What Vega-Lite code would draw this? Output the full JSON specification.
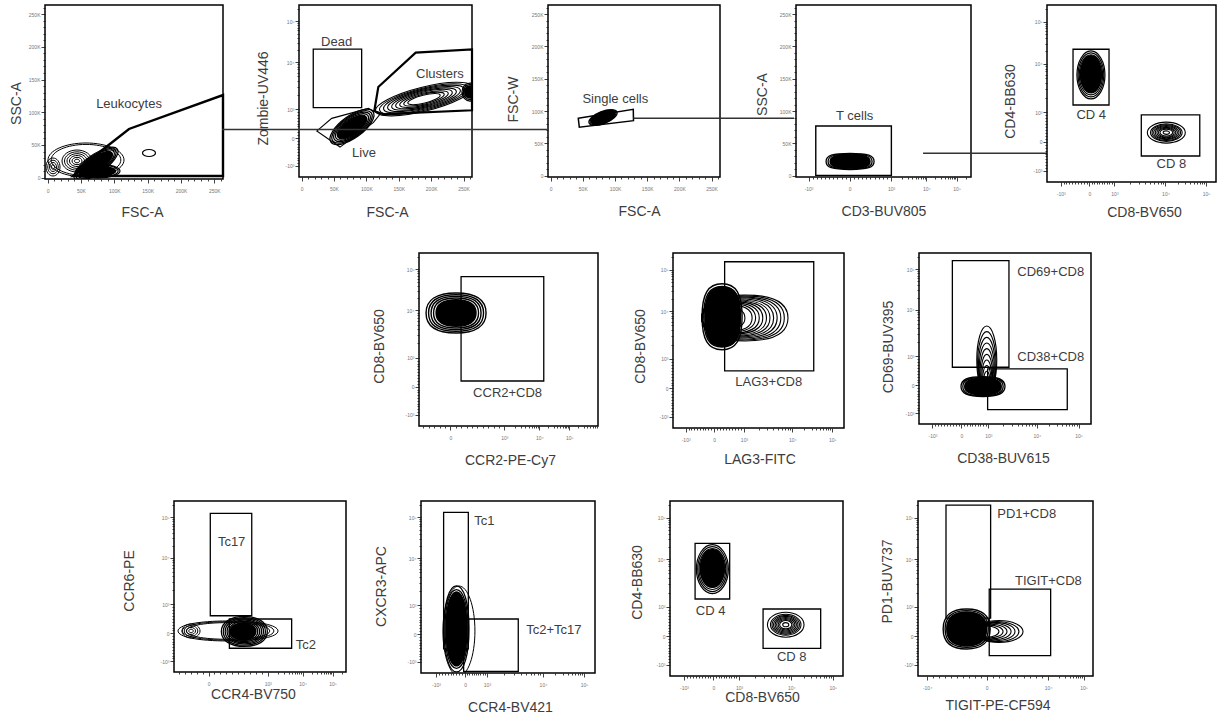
{
"$schema":"https://vega.github.io/schema/vega-lite/v6.json",
"background":"white",
"padding":{"left":8,"top":4,"right":0,"bottom":0},
"config":{
 "view":{"stroke":"black","strokeWidth":1.5},
 "font":"Liberation Sans",
 "axis":{"domain":false,"grid":false,"labelFont":"Liberation Sans","labelFontSize":5,"labelColor":"#777","labelOverlap":false,"labelFlush":false,"tickColor":"#111","tickWidth":0.8,"titleFont":"Liberation Sans","titleFontSize":14,"titleFontWeight":"normal","titleColor":"#3d3d3d","titleBaseline":"middle","titleAlign":"center"},
 "axisX":{"labelPadding":5},
 "axisY":{"labelPadding":1}
},
"spacing":32,
"vconcat":[
{"hconcat":[
 {"width":178,"height":174,
  "encoding":{
   "x":{"field":"x","type":"quantitative","scale":{"domain":[-4000,263000],"nice":false,"zero":false},"axis":{"values":[0,10000,20000,30000,40000,50000,60000,70000,80000,90000,100000,110000,120000,130000,140000,150000,160000,170000,180000,190000,200000,210000,220000,230000,240000,250000,260000],"labelExpr":"datum.value % 50000 == 0 ? (datum.value == 0 ? '0' : (datum.value / 1000) + 'K') : ''","tickSize":{"condition":{"test":"datum.value % 50000 == 0","value":4},"value":2},"title":"FSC-A","titleX":97,"titleY":33}},
   "y":{"field":"y","type":"quantitative","scale":{"domain":[-2000,264000],"nice":false,"zero":false},"axis":{"values":[0,10000,20000,30000,40000,50000,60000,70000,80000,90000,100000,110000,120000,130000,140000,150000,160000,170000,180000,190000,200000,210000,220000,230000,240000,250000,260000],"labelExpr":"datum.value % 50000 == 0 ? (datum.value == 0 ? '0' : (datum.value / 1000) + 'K') : ''","tickSize":{"condition":{"test":"datum.value % 50000 == 0","value":4},"value":2},"title":"SSC-A","titleX":-29,"titleY":98}}
  },
  "layer":[
   {"data":{"values":[{"x":57500,"y":27050,"ring":11},{"x":57500,"y":27050,"ring":12}]},
    "mark":{"type":"point","shape":"M38,0C38,9.4 21,17 0,17C-21,17 -38,9.4 -38,0C-38,-9.4 -21,-17 0,-17C21,-17 38,-9.4 38,0Z","filled":false,"color":"black","opacity":1,"strokeWidth":1,"clip":true},
    "encoding":{"size":{"field":"ring","type":"quantitative","scale":{"type":"pow","exponent":2,"domain":[0,12],"range":[0,4]},"legend":null}}},
   {"data":{"values":[{"x":8000,"y":16350,"ring":3},{"x":8000,"y":16350,"ring":6},{"x":8000,"y":16350,"ring":9},{"x":8000,"y":16350,"ring":12}]},
    "mark":{"type":"point","shape":"M7,0C7,5 3.9,9 0,9C-3.9,9 -7,5 -7,0C-7,-5 -3.9,-9 0,-9C3.9,-9 7,-5 7,0Z","filled":false,"color":"black","opacity":1,"strokeWidth":1,"clip":true},
    "encoding":{"size":{"field":"ring","type":"quantitative","scale":{"type":"pow","exponent":2,"domain":[0,12],"range":[0,4]},"legend":null}}},
   {"data":{"values":[{"x":44000,"y":25500,"ring":2},{"x":44000,"y":25500,"ring":4},{"x":44000,"y":25500,"ring":6},{"x":44000,"y":25500,"ring":8},{"x":44000,"y":25500,"ring":10},{"x":44000,"y":25500,"ring":12}]},
    "mark":{"type":"point","shape":"M15,0C15,6.1 8.3,11 0,11C-8.3,11 -15,6.1 -15,0C-15,-6.1 -8.3,-11 0,-11C8.3,-11 15,-6.1 15,0Z","filled":false,"color":"black","opacity":1,"strokeWidth":1,"clip":true},
    "encoding":{"size":{"field":"ring","type":"quantitative","scale":{"type":"pow","exponent":2,"domain":[0,12],"range":[0,4]},"legend":null}}},
   {"data":{"values":[{"x":75500,"y":10200,"ring":11},{"x":75500,"y":10200,"ring":12}]},
    "mark":{"type":"point","shape":"M22,0C22,3.9 12.1,7 0,7C-12.1,7 -22,3.9 -22,0C-22,-3.9 -12.1,-7 0,-7C12.1,-7 22,-3.9 22,0Z","filled":false,"color":"black","opacity":1,"strokeWidth":1.2,"clip":true},
    "encoding":{"size":{"field":"ring","type":"quantitative","scale":{"type":"pow","exponent":2,"domain":[0,12],"range":[0,4]},"legend":null}}},
   {"data":{"values":[{"x":75500,"y":10200,"ring":10}]},
    "mark":{"type":"point","shape":"M22,0C22,3.9 12.1,7 0,7C-12.1,7 -22,3.9 -22,0C-22,-3.9 -12.1,-7 0,-7C12.1,-7 22,-3.9 22,0Z","filled":true,"color":"black","opacity":1,"clip":true},
    "encoding":{"size":{"field":"ring","type":"quantitative","scale":{"type":"pow","exponent":2,"domain":[0,12],"range":[0,4]},"legend":null}}},
   {"data":{"values":[{"x":72500,"y":20900,"ring":8},{"x":72500,"y":20900,"ring":9},{"x":72500,"y":20900,"ring":10},{"x":72500,"y":20900,"ring":11},{"x":72500,"y":20900,"ring":12}]},
    "mark":{"type":"point","shape":"M26,0C26,5.2 14.4,9.5 0,9.5C-14.4,9.5 -26,5.2 -26,0C-26,-5.2 -14.4,-9.5 0,-9.5C14.4,-9.5 26,-5.2 26,0Z","angle":-35,"filled":false,"color":"black","opacity":1,"strokeWidth":1.2,"clip":true},
    "encoding":{"size":{"field":"ring","type":"quantitative","scale":{"type":"pow","exponent":2,"domain":[0,12],"range":[0,4]},"legend":null}}},
   {"data":{"values":[{"x":72500,"y":20900,"ring":9}]},
    "mark":{"type":"point","shape":"M26,0C26,5.2 14.4,9.5 0,9.5C-14.4,9.5 -26,5.2 -26,0C-26,-5.2 -14.4,-9.5 0,-9.5C14.4,-9.5 26,-5.2 26,0Z","angle":-35,"filled":true,"color":"black","opacity":1,"clip":true},
    "encoding":{"size":{"field":"ring","type":"quantitative","scale":{"type":"pow","exponent":2,"domain":[0,12],"range":[0,4]},"legend":null}}},
   {"data":{"values":[{"x":152000,"y":37750,"ring":12}]},
    "mark":{"type":"point","shape":"M6.5,0C6.5,1.9 3.6,3.5 0,3.5C-3.6,3.5 -6.5,1.9 -6.5,0C-6.5,-1.9 -3.6,-3.5 0,-3.5C3.6,-3.5 6.5,-1.9 6.5,0Z","filled":false,"color":"black","opacity":1,"strokeWidth":1.2,"clip":true},
    "encoding":{"size":{"field":"ring","type":"quantitative","scale":{"type":"pow","exponent":2,"domain":[0,12],"range":[0,4]},"legend":null}}},
   {"data":{"values":[{"x":38000,"y":2600,"i":0},{"x":263000,"y":2600,"i":1},{"x":263000,"y":126400,"i":2},{"x":122000,"y":74500,"i":3},{"x":80000,"y":40800,"i":4}]},
    "mark":{"type":"line","color":"black","strokeWidth":2.4,"interpolate":"linear-closed"},
    "encoding":{"order":{"field":"i","type":"quantitative"}}},
   {"data":{"values":[{"x":122000,"y":112700,"t":"Leukocytes"}]},
    "mark":{"type":"text","fontSize":13,"color":"#3d3d3d","font":"Liberation Sans"},
    "encoding":{"text":{"field":"t","type":"nominal"}}}
  ]},
 {"width":173,"height":172,
  "encoding":{
   "x":{"field":"x","type":"quantitative","scale":{"domain":[-4000,263000],"nice":false,"zero":false},"axis":{"values":[0,10000,20000,30000,40000,50000,60000,70000,80000,90000,100000,110000,120000,130000,140000,150000,160000,170000,180000,190000,200000,210000,220000,230000,240000,250000,260000],"labelExpr":"datum.value % 50000 == 0 ? (datum.value == 0 ? '0' : (datum.value / 1000) + 'K') : ''","tickSize":{"condition":{"test":"datum.value % 50000 == 0","value":4},"value":2},"title":"FSC-A","titleX":88,"titleY":35}},
   "y":{"field":"y","type":"quantitative","scale":{"domain":[0,1000],"nice":false,"zero":false},"axis":{"values":[64,80,96,113,129,145,161,177,194,210,226,243,260,277,294,311,327,344,361,378,395,477,525,559,586,607,626,641,655,668,739,781,811,834,852,868,882,894,905,976],"labelExpr":"datum.value == 64 ? '-10³' : datum.value == 226 ? '0' : datum.value == 395 ? '10³' : datum.value == 668 ? '10⁴' : datum.value == 905 ? '10⁵' : ''","tickSize":{"condition":{"test":"indexof([64,226,395,668,905], datum.value) >= 0","value":4},"value":2},"title":"Zombie-UV446","titleX":-36,"titleY":93}}
  },
  "layer":[
   {"data":{"values":[{"x":77800,"y":291,"ring":8},{"x":77800,"y":291,"ring":9},{"x":77800,"y":291,"ring":10},{"x":77800,"y":291,"ring":11},{"x":77800,"y":291,"ring":12}]},
    "mark":{"type":"point","shape":"M26,0C26,6.1 14.4,11 0,11C-14.4,11 -26,6.1 -26,0C-26,-6.1 -14.4,-11 0,-11C14.4,-11 26,-6.1 26,0Z","angle":-36,"filled":false,"color":"black","opacity":1,"strokeWidth":1.3,"clip":true},
    "encoding":{"size":{"field":"ring","type":"quantitative","scale":{"type":"pow","exponent":2,"domain":[0,12],"range":[0,4]},"legend":null}}},
   {"data":{"values":[{"x":77800,"y":291,"ring":8}]},
    "mark":{"type":"point","shape":"M26,0C26,6.1 14.4,11 0,11C-14.4,11 -26,6.1 -26,0C-26,-6.1 -14.4,-11 0,-11C14.4,-11 26,-6.1 26,0Z","angle":-36,"filled":true,"color":"black","opacity":1,"clip":true},
    "encoding":{"size":{"field":"ring","type":"quantitative","scale":{"type":"pow","exponent":2,"domain":[0,12],"range":[0,4]},"legend":null}}},
   {"data":{"values":[{"x":188900,"y":453,"ring":4},{"x":188900,"y":453,"ring":5},{"x":188900,"y":453,"ring":6},{"x":188900,"y":453,"ring":7},{"x":188900,"y":453,"ring":8},{"x":188900,"y":453,"ring":9},{"x":188900,"y":453,"ring":10},{"x":188900,"y":453,"ring":11},{"x":188900,"y":453,"ring":12}]},
    "mark":{"type":"point","shape":"M50,0C50,6.6 27.6,12 0,12C-27.6,12 -50,6.6 -50,0C-50,-6.6 -27.6,-12 0,-12C27.6,-12 50,-6.6 50,0Z","angle":-14,"filled":false,"color":"black","opacity":1,"strokeWidth":1.1,"clip":true},
    "encoding":{"size":{"field":"ring","type":"quantitative","scale":{"type":"pow","exponent":2,"domain":[0,12],"range":[0,4]},"legend":null}}},
   {"data":{"values":[{"x":259900,"y":494,"ring":10},{"x":259900,"y":494,"ring":12}]},
    "mark":{"type":"point","shape":"M8,0C8,5 4.4,9 0,9C-4.4,9 -8,5 -8,0C-8,-5 -4.4,-9 0,-9C4.4,-9 8,-5 8,0Z","filled":false,"color":"black","opacity":1,"strokeWidth":1.3,"clip":true},
    "encoding":{"size":{"field":"ring","type":"quantitative","scale":{"type":"pow","exponent":2,"domain":[0,12],"range":[0,4]},"legend":null}}},
   {"data":{"values":[{"x":259900,"y":494,"ring":9}]},
    "mark":{"type":"point","shape":"M8,0C8,5 4.4,9 0,9C-4.4,9 -8,5 -8,0C-8,-5 -4.4,-9 0,-9C4.4,-9 8,-5 8,0Z","filled":true,"color":"black","opacity":1,"clip":true},
    "encoding":{"size":{"field":"ring","type":"quantitative","scale":{"type":"pow","exponent":2,"domain":[0,12],"range":[0,4]},"legend":null}}},
   {"data":{"values":[{"x":18000,"x2":92700,"y":403,"y2":743}]},
    "mark":{"type":"rect","fill":"white","fillOpacity":0,"stroke":"black","strokeWidth":1.3},
    "encoding":{"x2":{"field":"x2"},"y2":{"field":"y2"}}},
   {"data":{"values":[{"x":23300,"y":267,"i":0},{"x":46500,"y":341,"i":1},{"x":103000,"y":399,"i":2},{"x":121000,"y":365,"i":3},{"x":110600,"y":316,"i":4},{"x":59300,"y":174,"i":5}]},
    "mark":{"type":"line","color":"black","strokeWidth":1.1,"interpolate":"linear-closed"},
    "encoding":{"order":{"field":"i","type":"quantitative"}}},
   {"data":{"values":[{"x":112200,"y":384,"i":0},{"x":118400,"y":523,"i":1},{"x":176100,"y":723,"i":2},{"x":263000,"y":742,"i":3},{"x":263000,"y":388,"i":4},{"x":126000,"y":365,"i":5}]},
    "mark":{"type":"line","color":"black","strokeWidth":2.2,"interpolate":"linear-closed"},
    "encoding":{"order":{"field":"i","type":"quantitative"}}},
   {"data":{"values":[{"x":54000,"y":787,"t":"Dead"},{"x":213500,"y":600,"t":"Clusters"},{"x":96300,"y":141,"t":"Live"}]},
    "mark":{"type":"text","fontSize":13,"color":"#3d3d3d","font":"Liberation Sans"},
    "encoding":{"text":{"field":"t","type":"nominal"}}},
   {"data":{"values":[{"x":-122800,"x2":378700,"y":276}]},
    "mark":{"type":"rule","color":"#333","strokeWidth":1.5,"clip":false},
    "encoding":{"x2":{"field":"x2"}}}
  ]},
 {"width":172,"height":172,
  "encoding":{
   "x":{"field":"x","type":"quantitative","scale":{"domain":[-4000,263000],"nice":false,"zero":false},"axis":{"values":[0,10000,20000,30000,40000,50000,60000,70000,80000,90000,100000,110000,120000,130000,140000,150000,160000,170000,180000,190000,200000,210000,220000,230000,240000,250000,260000],"labelExpr":"datum.value % 50000 == 0 ? (datum.value == 0 ? '0' : (datum.value / 1000) + 'K') : ''","tickSize":{"condition":{"test":"datum.value % 50000 == 0","value":4},"value":2},"title":"FSC-A","titleX":91,"titleY":34}},
   "y":{"field":"y","type":"quantitative","scale":{"domain":[-2000,264000],"nice":false,"zero":false},"axis":{"values":[0,10000,20000,30000,40000,50000,60000,70000,80000,90000,100000,110000,120000,130000,140000,150000,160000,170000,180000,190000,200000,210000,220000,230000,240000,250000,260000],"labelExpr":"datum.value % 50000 == 0 ? (datum.value == 0 ? '0' : (datum.value / 1000) + 'K') : ''","tickSize":{"condition":{"test":"datum.value % 50000 == 0","value":4},"value":2},"title":"FSC-W","titleX":-35,"titleY":94}}
  },
  "layer":[
   {"data":{"values":[{"x":81400,"y":90000,"ring":9},{"x":81400,"y":90000,"ring":10},{"x":81400,"y":90000,"ring":11},{"x":81400,"y":90000,"ring":12}]},
    "mark":{"type":"point","shape":"M15,0C15,3.3 8.3,6 0,6C-8.3,6 -15,3.3 -15,0C-15,-3.3 -8.3,-6 0,-6C8.3,-6 15,-3.3 15,0Z","angle":-22,"filled":false,"color":"black","opacity":1,"strokeWidth":1.3,"clip":true},
    "encoding":{"size":{"field":"ring","type":"quantitative","scale":{"type":"pow","exponent":2,"domain":[0,12],"range":[0,4]},"legend":null}}},
   {"data":{"values":[{"x":81400,"y":90000,"ring":10}]},
    "mark":{"type":"point","shape":"M15,0C15,3.3 8.3,6 0,6C-8.3,6 -15,3.3 -15,0C-15,-3.3 -8.3,-6 0,-6C8.3,-6 15,-3.3 15,0Z","angle":-22,"filled":true,"color":"black","opacity":1,"clip":true},
    "encoding":{"size":{"field":"ring","type":"quantitative","scale":{"type":"pow","exponent":2,"domain":[0,12],"range":[0,4]},"legend":null}}},
   {"data":{"values":[{"x":43000,"y":88800,"i":0},{"x":128400,"y":102700,"i":1},{"x":128700,"y":85100,"i":2},{"x":44600,"y":74900,"i":3}]},
    "mark":{"type":"line","color":"black","strokeWidth":1.5,"interpolate":"linear-closed"},
    "encoding":{"order":{"field":"i","type":"quantitative"}}},
   {"data":{"values":[{"x":100500,"y":119100,"t":"Single cells"}]},
    "mark":{"type":"text","fontSize":13,"color":"#3d3d3d","font":"Liberation Sans"},
    "encoding":{"text":{"field":"t","type":"nominal"}}},
   {"data":{"values":[{"x":128700,"x2":377900,"y":88800}]},
    "mark":{"type":"rule","color":"#333","strokeWidth":1.5,"clip":false},
    "encoding":{"x2":{"field":"x2"}}}
  ]},
 {"width":175,"height":172,
  "encoding":{
   "x":{"field":"x","type":"quantitative","scale":{"domain":[0,1000],"nice":false,"zero":false},"axis":{"values":[72,96,119,143,166,190,213,237,260,284,307,331,354,378,401,425,449,472,496,519,543,604,639,665,684,700,714,725,736,745,797,828,849,866,880,891,901,910,918,970],"labelExpr":"datum.value == 72 ? '-10³' : datum.value == 307 ? '0' : datum.value == 543 ? '10³' : datum.value == 745 ? '10⁴' : datum.value == 918 ? '10⁵' : ''","tickSize":{"condition":{"test":"indexof([72,307,543,745,918], datum.value) >= 0","value":4},"value":2},"title":"CD3-BUV805","titleX":87.5,"titleY":34}},
   "y":{"field":"y","type":"quantitative","scale":{"domain":[-2000,264000],"nice":false,"zero":false},"axis":{"values":[0,10000,20000,30000,40000,50000,60000,70000,80000,90000,100000,110000,120000,130000,140000,150000,160000,170000,180000,190000,200000,210000,220000,230000,240000,250000,260000],"labelExpr":"datum.value % 50000 == 0 ? (datum.value == 0 ? '0' : (datum.value / 1000) + 'K') : ''","tickSize":{"condition":{"test":"datum.value % 50000 == 0","value":4},"value":2},"title":"SSC-A","titleX":-34,"titleY":89}}
  },
  "layer":[
   {"data":{"values":[{"x":309,"y":22000,"ring":9},{"x":309,"y":22000,"ring":10},{"x":309,"y":22000,"ring":11},{"x":309,"y":22000,"ring":12}]},
    "mark":{"type":"point","shape":"M24,0C24,6 18,8 0,8C-18,8 -24,6 -24,0C-24,-6 -18,-8 0,-8C18,-8 24,-6 24,0Z","filled":false,"color":"black","opacity":1,"strokeWidth":1.3,"clip":true},
    "encoding":{"size":{"field":"ring","type":"quantitative","scale":{"type":"pow","exponent":2,"domain":[0,12],"range":[0,4]},"legend":null}}},
   {"data":{"values":[{"x":309,"y":22000,"ring":10}]},
    "mark":{"type":"point","shape":"M24,0C24,6 18,8 0,8C-18,8 -24,6 -24,0C-24,-6 -18,-8 0,-8C18,-8 24,-6 24,0Z","filled":true,"color":"black","opacity":1,"clip":true},
    "encoding":{"size":{"field":"ring","type":"quantitative","scale":{"type":"pow","exponent":2,"domain":[0,12],"range":[0,4]},"legend":null}}},
   {"data":{"values":[{"x":113,"x2":545,"y":500,"y2":76900}]},
    "mark":{"type":"rect","fill":"white","fillOpacity":0,"stroke":"black","strokeWidth":1.4},
    "encoding":{"x2":{"field":"x2"},"y2":{"field":"y2"}}},
   {"data":{"values":[{"x":335,"y":92800,"t":"T cells"}]},
    "mark":{"type":"text","fontSize":13,"color":"#3d3d3d","font":"Liberation Sans"},
    "encoding":{"text":{"field":"t","type":"nominal"}}},
   {"data":{"values":[{"x":726,"x2":1434,"y":34700}]},
    "mark":{"type":"rule","color":"#333","strokeWidth":1.5,"clip":false},
    "encoding":{"x2":{"field":"x2"}}}
  ]},
 {"width":169,"height":177,
  "encoding":{
   "x":{"field":"x","type":"quantitative","scale":{"domain":[0,1000],"nice":false,"zero":false},"axis":{"values":[81,98,115,132,149,166,183,200,217,234,251,266,281,295,310,325,340,355,369,384,399,490,543,581,610,634,654,672,687,701,773,815,845,869,888,904,918,930,941],"labelExpr":"datum.value == 81 ? '-10³' : datum.value == 251 ? '0' : datum.value == 399 ? '10³' : datum.value == 701 ? '10⁴' : datum.value == 941 ? '10⁵' : ''","tickSize":{"condition":{"test":"indexof([81,251,399,701,941], datum.value) >= 0","value":4},"value":2},"title":"CD8-BV650","titleX":97,"titleY":30}},
   "y":{"field":"y","type":"quantitative","scale":{"domain":[0,1000],"nice":false,"zero":false},"axis":{"values":[64,80,96,113,129,145,161,177,194,210,226,243,260,277,294,311,327,344,361,378,395,477,525,559,586,607,626,641,655,668,739,781,811,834,852,868,882,894,905,976],"labelExpr":"datum.value == 64 ? '-10³' : datum.value == 226 ? '0' : datum.value == 395 ? '10³' : datum.value == 668 ? '10⁴' : datum.value == 905 ? '10⁵' : ''","tickSize":{"condition":{"test":"indexof([64,226,395,668,905], datum.value) >= 0","value":4},"value":2},"title":"CD4-BB630","titleX":-37,"titleY":96}}
  },
  "layer":[
   {"data":{"values":[{"x":260,"y":605,"ring":9},{"x":260,"y":605,"ring":10},{"x":260,"y":605,"ring":11},{"x":260,"y":605,"ring":12}]},
    "mark":{"type":"point","shape":"M14,0C14,13.2 7.7,24 0,24C-7.7,24 -14,13.2 -14,0C-14,-13.2 -7.7,-24 0,-24C7.7,-24 14,-13.2 14,0Z","filled":false,"color":"black","opacity":1,"strokeWidth":1.2,"clip":true},
    "encoding":{"size":{"field":"ring","type":"quantitative","scale":{"type":"pow","exponent":2,"domain":[0,12],"range":[0,4]},"legend":null}}},
   {"data":{"values":[{"x":260,"y":610,"ring":9.5}]},
    "mark":{"type":"point","shape":"M14,0C14,13.2 7.7,24 0,24C-7.7,24 -14,13.2 -14,0C-14,-13.2 -7.7,-24 0,-24C7.7,-24 14,-13.2 14,0Z","filled":true,"color":"black","opacity":1,"clip":true},
    "encoding":{"size":{"field":"ring","type":"quantitative","scale":{"type":"pow","exponent":2,"domain":[0,12],"range":[0,4]},"legend":null}}},
   {"data":{"values":[{"x":706,"y":279,"ring":2},{"x":706,"y":279,"ring":4},{"x":706,"y":279,"ring":5},{"x":706,"y":279,"ring":6},{"x":706,"y":279,"ring":7},{"x":706,"y":279,"ring":8},{"x":706,"y":279,"ring":9},{"x":706,"y":279,"ring":10},{"x":706,"y":279,"ring":12}]},
    "mark":{"type":"point","shape":"M19,0C19,5.8 10.5,10.5 0,10.5C-10.5,10.5 -19,5.8 -19,0C-19,-5.8 -10.5,-10.5 0,-10.5C10.5,-10.5 19,-5.8 19,0Z","filled":false,"color":"black","opacity":1,"strokeWidth":1.1,"clip":true},
    "encoding":{"size":{"field":"ring","type":"quantitative","scale":{"type":"pow","exponent":2,"domain":[0,12],"range":[0,4]},"legend":null}}},
   {"data":{"values":[{"x":154,"x2":367,"y":435,"y2":750},{"x":558,"x2":904,"y":147,"y2":379}]},
    "mark":{"type":"rect","fill":"white","fillOpacity":0,"stroke":"black","strokeWidth":1.3},
    "encoding":{"x2":{"field":"x2"},"y2":{"field":"y2"}}},
   {"data":{"values":[{"x":262,"y":377,"t":"CD 4"},{"x":736,"y":103,"t":"CD 8"}]},
    "mark":{"type":"text","fontSize":13,"color":"#3d3d3d","font":"Liberation Sans"},
    "encoding":{"text":{"field":"t","type":"nominal"}}}
  ]}
],"spacing":76,"bounds":"flush"},
{"hconcat":[
 {"width":299,"height":10,"view":{"stroke":null},"data":{"values":[{"a":1}]},"mark":{"type":"point","opacity":0},"encoding":{}},
 {"width":179,"height":173,
  "encoding":{
   "x":{"field":"x","type":"quantitative","scale":{"domain":[0,1000],"nice":false,"zero":false},"axis":{"values":[24,54,84,115,145,175,205,235,266,296,326,356,386,417,447,477,536,570,594,613,629,642,653,663,672,723,752,773,789,803,814,824,832,840,891,920,941,957,971,982,992],"labelExpr":"datum.value == 175 ? '0' : datum.value == 477 ? '10³' : datum.value == 672 ? '10⁴' : datum.value == 840 ? '10⁵' : ''","tickSize":{"condition":{"test":"indexof([175,477,672,840], datum.value) >= 0","value":4},"value":2},"title":"CCR2-PE-Cy7","titleX":91,"titleY":34}},
   "y":{"field":"y","type":"quantitative","scale":{"domain":[0,1000],"nice":false,"zero":false},"axis":{"values":[64,80,96,113,129,145,161,177,194,210,226,243,260,277,294,311,327,344,361,378,395,477,525,559,586,607,626,641,655,668,739,781,811,834,852,868,882,894,905,976],"labelExpr":"datum.value == 64 ? '-10³' : datum.value == 226 ? '0' : datum.value == 395 ? '10³' : datum.value == 668 ? '10⁴' : datum.value == 905 ? '10⁵' : ''","tickSize":{"condition":{"test":"indexof([64,226,395,668,905], datum.value) >= 0","value":4},"value":2},"title":"CD8-BV650","titleX":-40,"titleY":93}}
  },
  "layer":[
   {"data":{"values":[{"x":207,"y":653,"ring":7},{"x":207,"y":653,"ring":8},{"x":207,"y":653,"ring":9},{"x":207,"y":653,"ring":10},{"x":207,"y":653,"ring":11},{"x":207,"y":653,"ring":12}]},
    "mark":{"type":"point","shape":"M30,0C30,13 19.5,20 0,20C-19.5,20 -30,13 -30,0C-30,-13 -19.5,-20 0,-20C19.5,-20 30,-13 30,0Z","filled":false,"color":"black","opacity":1,"strokeWidth":1.4,"clip":true},
    "encoding":{"size":{"field":"ring","type":"quantitative","scale":{"type":"pow","exponent":2,"domain":[0,12],"range":[0,4]},"legend":null}}},
   {"data":{"values":[{"x":207,"y":653,"ring":8}]},
    "mark":{"type":"point","shape":"M30,0C30,13 19.5,20 0,20C-19.5,20 -30,13 -30,0C-30,-13 -19.5,-20 0,-20C19.5,-20 30,-13 30,0Z","filled":true,"color":"black","opacity":1,"clip":true},
    "encoding":{"size":{"field":"ring","type":"quantitative","scale":{"type":"pow","exponent":2,"domain":[0,12],"range":[0,4]},"legend":null}}},
   {"data":{"values":[{"x":235,"x2":697,"y":260,"y2":863}]},
    "mark":{"type":"rect","fill":"white","fillOpacity":0,"stroke":"black","strokeWidth":1.3},
    "encoding":{"x2":{"field":"x2"},"y2":{"field":"y2"}}},
   {"data":{"values":[{"x":495,"y":192,"t":"CCR2+CD8"}]},
    "mark":{"type":"text","fontSize":13,"color":"#3d3d3d","font":"Liberation Sans"},
    "encoding":{"text":{"field":"t","type":"nominal"}}}
  ]},
 {"width":171,"height":175,
  "encoding":{
   "x":{"field":"x","type":"quantitative","scale":{"domain":[0,1000],"nice":false,"zero":false},"axis":{"values":[74,91,107,124,140,157,174,190,207,223,240,258,275,293,310,328,345,363,380,398,415,500,550,585,613,635,654,671,685,698,768,810,839,862,880,896,909,921,932],"labelExpr":"datum.value == 74 ? '-10³' : datum.value == 240 ? '0' : datum.value == 415 ? '10³' : datum.value == 698 ? '10⁴' : datum.value == 932 ? '10⁵' : ''","tickSize":{"condition":{"test":"indexof([74,240,415,698,932], datum.value) >= 0","value":4},"value":2},"title":"LAG3-FITC","titleX":86.5,"titleY":31}},
   "y":{"field":"y","type":"quantitative","scale":{"domain":[0,1000],"nice":false,"zero":false},"axis":{"values":[64,80,96,113,129,145,161,177,194,210,226,243,260,277,294,311,327,344,361,378,395,477,525,559,586,607,626,641,655,668,739,781,811,834,852,868,882,894,905,976],"labelExpr":"datum.value == 64 ? '-10³' : datum.value == 226 ? '0' : datum.value == 395 ? '10³' : datum.value == 668 ? '10⁴' : datum.value == 905 ? '10⁵' : ''","tickSize":{"condition":{"test":"indexof([64,226,395,668,905], datum.value) >= 0","value":4},"value":2},"title":"CD8-BV650","titleX":-33,"titleY":93}}
  },
  "layer":[
   {"data":{"values":[{"x":421,"y":629,"ring":12},{"x":410,"y":629,"ring":11.5},{"x":400,"y":629,"ring":11},{"x":389,"y":629,"ring":10.5},{"x":379,"y":629,"ring":10},{"x":368,"y":629,"ring":9.5},{"x":358,"y":629,"ring":9},{"x":347,"y":629,"ring":8.5},{"x":337,"y":629,"ring":8},{"x":326,"y":629,"ring":7.5},{"x":316,"y":629,"ring":7},{"x":295,"y":629,"ring":6},{"x":274,"y":629,"ring":5}]},
    "mark":{"type":"point","shape":"M43,0C43,15 28,23 0,23C-28,23 -43,15 -43,0C-43,-15 -28,-23 0,-23C28,-23 43,-15 43,0Z","filled":false,"color":"black","opacity":1,"strokeWidth":1.1,"clip":true},
    "encoding":{"size":{"field":"ring","type":"quantitative","scale":{"type":"pow","exponent":2,"domain":[0,12],"range":[0,4]},"legend":null}}},
   {"data":{"values":[{"x":287,"y":636,"ring":10},{"x":287,"y":636,"ring":11},{"x":287,"y":636,"ring":12}]},
    "mark":{"type":"point","shape":"M20,0C20,23.1 14,33 0,33C-14,33 -20,23.1 -20,0C-20,-23.1 -14,-33 0,-33C14,-33 20,-23.1 20,0Z","filled":false,"color":"black","opacity":1,"strokeWidth":1.4,"clip":true},
    "encoding":{"size":{"field":"ring","type":"quantitative","scale":{"type":"pow","exponent":2,"domain":[0,12],"range":[0,4]},"legend":null}}},
   {"data":{"values":[{"x":290,"y":636,"ring":11}]},
    "mark":{"type":"point","shape":"M20,0C20,23.1 14,33 0,33C-14,33 -20,23.1 -20,0C-20,-23.1 -14,-33 0,-33C14,-33 20,-23.1 20,0Z","filled":true,"color":"black","opacity":1,"clip":true},
    "encoding":{"size":{"field":"ring","type":"quantitative","scale":{"type":"pow","exponent":2,"domain":[0,12],"range":[0,4]},"legend":null}}},
   {"data":{"values":[{"x":302,"x2":823,"y":327,"y2":950}]},
    "mark":{"type":"rect","fill":"white","fillOpacity":0,"stroke":"black","strokeWidth":1.3},
    "encoding":{"x2":{"field":"x2"},"y2":{"field":"y2"}}},
   {"data":{"values":[{"x":560,"y":265,"t":"LAG3+CD8"}]},
    "mark":{"type":"text","fontSize":13,"color":"#3d3d3d","font":"Liberation Sans"},
    "encoding":{"text":{"field":"t","type":"nominal"}}}
  ]},
 {"width":172,"height":171,
  "encoding":{
   "x":{"field":"x","type":"quantitative","scale":{"domain":[0,1000],"nice":false,"zero":false},"axis":{"values":[78,95,112,129,146,163,179,196,213,230,247,263,278,294,309,325,341,356,372,387,403,488,538,573,600,622,641,658,672,685,758,801,831,855,874,890,904,917,928],"labelExpr":"datum.value == 78 ? '-10³' : datum.value == 247 ? '0' : datum.value == 403 ? '10³' : datum.value == 685 ? '10⁴' : datum.value == 928 ? '10⁵' : ''","tickSize":{"condition":{"test":"indexof([78,247,403,685,928], datum.value) >= 0","value":4},"value":2},"title":"CD38-BUV615","titleX":84,"titleY":34}},
   "y":{"field":"y","type":"quantitative","scale":{"domain":[0,1000],"nice":false,"zero":false},"axis":{"values":[64,80,96,113,129,145,161,177,194,210,226,243,260,277,294,311,327,344,361,378,395,477,525,559,586,607,626,641,655,668,739,781,811,834,852,868,882,894,905,976],"labelExpr":"datum.value == 64 ? '-10³' : datum.value == 226 ? '0' : datum.value == 395 ? '10³' : datum.value == 668 ? '10⁴' : datum.value == 905 ? '10⁵' : ''","tickSize":{"condition":{"test":"indexof([64,226,395,668,905], datum.value) >= 0","value":4},"value":2},"title":"CD69-BUV395","titleX":-31,"titleY":93.5}}
  },
  "layer":[
   {"data":{"values":[{"x":394,"y":374,"ring":12},{"x":394,"y":358,"ring":11},{"x":394,"y":341,"ring":10},{"x":394,"y":325,"ring":9},{"x":394,"y":308,"ring":8},{"x":394,"y":291,"ring":7},{"x":394,"y":275,"ring":6},{"x":394,"y":259,"ring":5},{"x":394,"y":242,"ring":4}]},
    "mark":{"type":"point","shape":"M10,0C10,18.8 5.5,34 0,34C-5.5,34 -10,18.8 -10,0C-10,-18.8 -5.5,-34 0,-34C5.5,-34 10,-18.8 10,0Z","filled":false,"color":"black","opacity":1,"strokeWidth":1.1,"clip":true},
    "encoding":{"size":{"field":"ring","type":"quantitative","scale":{"type":"pow","exponent":2,"domain":[0,12],"range":[0,4]},"legend":null}}},
   {"data":{"values":[{"x":372,"y":219,"ring":9},{"x":372,"y":219,"ring":10},{"x":372,"y":219,"ring":11},{"x":372,"y":219,"ring":12}]},
    "mark":{"type":"point","shape":"M22,0C22,7 15.4,10 0,10C-15.4,10 -22,7 -22,0C-22,-7 -15.4,-10 0,-10C15.4,-10 22,-7 22,0Z","filled":false,"color":"black","opacity":1,"strokeWidth":1.3,"clip":true},
    "encoding":{"size":{"field":"ring","type":"quantitative","scale":{"type":"pow","exponent":2,"domain":[0,12],"range":[0,4]},"legend":null}}},
   {"data":{"values":[{"x":372,"y":219,"ring":10}]},
    "mark":{"type":"point","shape":"M22,0C22,7 15.4,10 0,10C-15.4,10 -22,7 -22,0C-22,-7 -15.4,-10 0,-10C15.4,-10 22,-7 22,0Z","filled":true,"color":"black","opacity":1,"clip":true},
    "encoding":{"size":{"field":"ring","type":"quantitative","scale":{"type":"pow","exponent":2,"domain":[0,12],"range":[0,4]},"legend":null}}},
   {"data":{"values":[{"x":194,"x2":523,"y":332,"y2":955},{"x":399,"x2":862,"y":84,"y2":322}]},
    "mark":{"type":"rect","fill":"white","fillOpacity":0,"stroke":"black","strokeWidth":1.3},
    "encoding":{"x2":{"field":"x2"},"y2":{"field":"y2"}}},
   {"data":{"values":[{"x":766,"y":887,"t":"CD69+CD8"},{"x":766,"y":390,"t":"CD38+CD8"}]},
    "mark":{"type":"text","fontSize":13,"color":"#3d3d3d","font":"Liberation Sans"},
    "encoding":{"text":{"field":"t","type":"nominal"}}}
  ]}
],"spacing":75,"bounds":"flush"},
{"hconcat":[
 {"width":54,"height":10,"view":{"stroke":null},"data":{"values":[{"a":1}]},"mark":{"type":"point","opacity":0},"encoding":{}},
 {"width":172,"height":171,
  "encoding":{
   "x":{"field":"x","type":"quantitative","scale":{"domain":[0,1000],"nice":false,"zero":false},"axis":{"values":[29,63,98,132,167,201,235,270,304,339,373,407,442,476,511,545,606,642,667,687,703,717,728,739,748,800,831,853,870,883,895,905,914,922,974],"labelExpr":"datum.value == 201 ? '0' : datum.value == 545 ? '10³' : datum.value == 748 ? '10⁴' : datum.value == 922 ? '10⁵' : ''","tickSize":{"condition":{"test":"indexof([201,545,748,922], datum.value) >= 0","value":4},"value":2},"title":"CCR4-BV750","titleX":79,"titleY":22}},
   "y":{"field":"y","type":"quantitative","scale":{"domain":[0,1000],"nice":false,"zero":false},"axis":{"values":[64,80,96,113,129,145,161,177,194,210,226,243,260,277,294,311,327,344,361,378,395,477,525,559,586,607,626,641,655,668,739,781,811,834,852,868,882,894,905,976],"labelExpr":"datum.value == 64 ? '-10³' : datum.value == 226 ? '0' : datum.value == 395 ? '10³' : datum.value == 668 ? '10⁴' : datum.value == 905 ? '10⁵' : ''","tickSize":{"condition":{"test":"indexof([64,226,395,668,905], datum.value) >= 0","value":4},"value":2},"title":"CCR6-PE","titleX":-45,"titleY":79.5}}
  },
  "layer":[
   {"data":{"values":[{"x":314,"y":240,"ring":10},{"x":314,"y":240,"ring":11},{"x":314,"y":240,"ring":12}]},
    "mark":{"type":"point","shape":"M50,0C50,6 30,10 0,10C-30,10 -50,6 -50,0C-50,-6 -30,-10 0,-10C30,-10 50,-6 50,0Z","filled":false,"color":"black","opacity":1,"strokeWidth":1,"clip":true},
    "encoding":{"size":{"field":"ring","type":"quantitative","scale":{"type":"pow","exponent":2,"domain":[0,12],"range":[0,4]},"legend":null}}},
   {"data":{"values":[{"x":99,"y":240,"ring":3},{"x":99,"y":240,"ring":6},{"x":99,"y":240,"ring":9},{"x":99,"y":240,"ring":12}]},
    "mark":{"type":"point","shape":"M9,0C9,3.9 5,7 0,7C-5,7 -9,3.9 -9,0C-9,-3.9 -5,-7 0,-7C5,-7 9,-3.9 9,0Z","filled":false,"color":"black","opacity":1,"strokeWidth":1,"clip":true},
    "encoding":{"size":{"field":"ring","type":"quantitative","scale":{"type":"pow","exponent":2,"domain":[0,12],"range":[0,4]},"legend":null}}},
   {"data":{"values":[{"x":409,"y":237,"ring":6},{"x":409,"y":237,"ring":7},{"x":409,"y":237,"ring":8},{"x":409,"y":237,"ring":9},{"x":409,"y":237,"ring":10},{"x":409,"y":237,"ring":11},{"x":409,"y":237,"ring":12}]},
    "mark":{"type":"point","shape":"M23,0C23,9 13.8,15 0,15C-13.8,15 -23,9 -23,0C-23,-9 -13.8,-15 0,-15C13.8,-15 23,-9 23,0Z","filled":false,"color":"black","opacity":1,"strokeWidth":1.3,"clip":true},
    "encoding":{"size":{"field":"ring","type":"quantitative","scale":{"type":"pow","exponent":2,"domain":[0,12],"range":[0,4]},"legend":null}}},
   {"data":{"values":[{"x":400,"y":237,"ring":7}]},
    "mark":{"type":"point","shape":"M23,0C23,9 13.8,15 0,15C-13.8,15 -23,9 -23,0C-23,-9 -13.8,-15 0,-15C13.8,-15 23,-9 23,0Z","filled":true,"color":"black","opacity":1,"clip":true},
    "encoding":{"size":{"field":"ring","type":"quantitative","scale":{"type":"pow","exponent":2,"domain":[0,12],"range":[0,4]},"legend":null}}},
   {"data":{"values":[{"x":211,"x2":452,"y":329,"y2":928},{"x":322,"x2":684,"y":139,"y2":310}]},
    "mark":{"type":"rect","fill":"white","fillOpacity":0,"stroke":"black","strokeWidth":1.3},
    "encoding":{"x2":{"field":"x2"},"y2":{"field":"y2"}}},
   {"data":{"values":[{"x":335,"y":758,"t":"Tc17"},{"x":767,"y":158,"t":"Tc2"}]},
    "mark":{"type":"text","fontSize":13,"color":"#3d3d3d","font":"Liberation Sans"},
    "encoding":{"text":{"field":"t","type":"nominal"}}}
  ]},
 {"width":174,"height":172,
  "encoding":{
   "x":{"field":"x","type":"quantitative","scale":{"domain":[0,1000],"nice":false,"zero":false},"axis":{"values":[86,103,119,136,153,170,186,203,220,236,253,266,278,291,303,316,329,341,354,366,379,476,533,573,604,630,651,670,686,701,772,814,843,866,885,900,914,926,937],"labelExpr":"datum.value == 86 ? '-10³' : datum.value == 253 ? '0' : datum.value == 379 ? '10³' : datum.value == 701 ? '10⁴' : datum.value == 937 ? '10⁵' : ''","tickSize":{"condition":{"test":"indexof([86,253,379,701,937], datum.value) >= 0","value":4},"value":2},"title":"CCR4-BV421","titleX":89,"titleY":34}},
   "y":{"field":"y","type":"quantitative","scale":{"domain":[0,1000],"nice":false,"zero":false},"axis":{"values":[64,80,96,113,129,145,161,177,194,210,226,243,260,277,294,311,327,344,361,378,395,477,525,559,586,607,626,641,655,668,739,781,811,834,852,868,882,894,905,976],"labelExpr":"datum.value == 64 ? '-10³' : datum.value == 226 ? '0' : datum.value == 395 ? '10³' : datum.value == 668 ? '10⁴' : datum.value == 905 ? '10⁵' : ''","tickSize":{"condition":{"test":"indexof([64,226,395,668,905], datum.value) >= 0","value":4},"value":2},"title":"CXCR3-APC","titleX":-40,"titleY":85}}
  },
  "layer":[
   {"data":{"values":[{"x":218,"y":244,"ring":12}]},
    "mark":{"type":"point","shape":"M16,0C16,24.8 8.8,45 0,45C-8.8,45 -16,24.8 -16,0C-16,-24.8 -8.8,-45 0,-45C8.8,-45 16,-24.8 16,0Z","filled":false,"color":"black","opacity":1,"strokeWidth":1,"clip":true},
    "encoding":{"size":{"field":"ring","type":"quantitative","scale":{"type":"pow","exponent":2,"domain":[0,12],"range":[0,4]},"legend":null}}},
   {"data":{"values":[{"x":204,"y":256,"ring":10},{"x":204,"y":256,"ring":11},{"x":204,"y":256,"ring":12}]},
    "mark":{"type":"point","shape":"M12.5,0C12.5,25.8 7.5,43 0,43C-7.5,43 -12.5,25.8 -12.5,0C-12.5,-25.8 -7.5,-43 0,-43C7.5,-43 12.5,-25.8 12.5,0Z","filled":false,"color":"black","opacity":1,"strokeWidth":1.3,"clip":true},
    "encoding":{"size":{"field":"ring","type":"quantitative","scale":{"type":"pow","exponent":2,"domain":[0,12],"range":[0,4]},"legend":null}}},
   {"data":{"values":[{"x":204,"y":256,"ring":10.5}]},
    "mark":{"type":"point","shape":"M12.5,0C12.5,25.8 7.5,43 0,43C-7.5,43 -12.5,25.8 -12.5,0C-12.5,-25.8 -7.5,-43 0,-43C7.5,-43 12.5,-25.8 12.5,0Z","filled":true,"color":"black","opacity":1,"clip":true},
    "encoding":{"size":{"field":"ring","type":"quantitative","scale":{"type":"pow","exponent":2,"domain":[0,12],"range":[0,4]},"legend":null}}},
   {"data":{"values":[{"x":130,"x2":272,"y":140,"y2":934},{"x":245,"x2":559,"y":10,"y2":314}]},
    "mark":{"type":"rect","fill":"white","fillOpacity":0,"stroke":"black","strokeWidth":1.3},
    "encoding":{"x2":{"field":"x2"},"y2":{"field":"y2"}}},
   {"data":{"values":[{"x":364,"y":886,"t":"Tc1"},{"x":764,"y":250,"t":"Tc2+Tc17"}]},
    "mark":{"type":"text","fontSize":13,"color":"#3d3d3d","font":"Liberation Sans"},
    "encoding":{"text":{"field":"t","type":"nominal"}}}
  ]},
 {"width":173,"height":175,
  "encoding":{
   "x":{"field":"x","type":"quantitative","scale":{"domain":[0,1000],"nice":false,"zero":false},"axis":{"values":[81,98,115,132,149,166,183,200,217,234,251,266,281,295,310,325,340,355,369,384,399,490,543,581,610,634,654,672,687,701,773,815,845,869,888,904,918,930,941],"labelExpr":"datum.value == 81 ? '-10³' : datum.value == 251 ? '0' : datum.value == 399 ? '10³' : datum.value == 701 ? '10⁴' : datum.value == 941 ? '10⁵' : ''","tickSize":{"condition":{"test":"indexof([81,251,399,701,941], datum.value) >= 0","value":4},"value":2},"title":"CD8-BV650","titleX":92,"titleY":21}},
   "y":{"field":"y","type":"quantitative","scale":{"domain":[0,1000],"nice":false,"zero":false},"axis":{"values":[64,80,96,113,129,145,161,177,194,210,226,243,260,277,294,311,327,344,361,378,395,477,525,559,586,607,626,641,655,668,739,781,811,834,852,868,882,894,905,976],"labelExpr":"datum.value == 64 ? '-10³' : datum.value == 226 ? '0' : datum.value == 395 ? '10³' : datum.value == 668 ? '10⁴' : datum.value == 905 ? '10⁵' : ''","tickSize":{"condition":{"test":"indexof([64,226,395,668,905], datum.value) >= 0","value":4},"value":2},"title":"CD4-BB630","titleX":-33,"titleY":81}}
  },
  "layer":[
   {"data":{"values":[{"x":245,"y":611,"ring":9},{"x":245,"y":611,"ring":10},{"x":245,"y":611,"ring":11},{"x":245,"y":611,"ring":12}]},
    "mark":{"type":"point","shape":"M16,0C16,13.5 8.8,24.5 0,24.5C-8.8,24.5 -16,13.5 -16,0C-16,-13.5 -8.8,-24.5 0,-24.5C8.8,-24.5 16,-13.5 16,0Z","filled":false,"color":"black","opacity":1,"strokeWidth":1.2,"clip":true},
    "encoding":{"size":{"field":"ring","type":"quantitative","scale":{"type":"pow","exponent":2,"domain":[0,12],"range":[0,4]},"legend":null}}},
   {"data":{"values":[{"x":245,"y":616,"ring":9.5}]},
    "mark":{"type":"point","shape":"M16,0C16,13.5 8.8,24.5 0,24.5C-8.8,24.5 -16,13.5 -16,0C-16,-13.5 -8.8,-24.5 0,-24.5C8.8,-24.5 16,-13.5 16,0Z","filled":true,"color":"black","opacity":1,"clip":true},
    "encoding":{"size":{"field":"ring","type":"quantitative","scale":{"type":"pow","exponent":2,"domain":[0,12],"range":[0,4]},"legend":null}}},
   {"data":{"values":[{"x":669,"y":293,"ring":2},{"x":669,"y":293,"ring":4},{"x":669,"y":293,"ring":5},{"x":669,"y":293,"ring":6},{"x":669,"y":293,"ring":7},{"x":669,"y":293,"ring":8},{"x":669,"y":293,"ring":9},{"x":669,"y":293,"ring":10},{"x":669,"y":293,"ring":12}]},
    "mark":{"type":"point","shape":"M18.3,0C18.3,6.9 10.1,12.5 0,12.5C-10.1,12.5 -18.3,6.9 -18.3,0C-18.3,-6.9 -10.1,-12.5 0,-12.5C10.1,-12.5 18.3,-6.9 18.3,0Z","filled":false,"color":"black","opacity":1,"strokeWidth":1.1,"clip":true},
    "encoding":{"size":{"field":"ring","type":"quantitative","scale":{"type":"pow","exponent":2,"domain":[0,12],"range":[0,4]},"legend":null}}},
   {"data":{"values":[{"x":145,"x2":345,"y":440,"y2":758},{"x":538,"x2":871,"y":158,"y2":383}]},
    "mark":{"type":"rect","fill":"white","fillOpacity":0,"stroke":"black","strokeWidth":1.3},
    "encoding":{"x2":{"field":"x2"},"y2":{"field":"y2"}}},
   {"data":{"values":[{"x":235,"y":370,"t":"CD 4"},{"x":704,"y":107,"t":"CD 8"}]},
    "mark":{"type":"text","fontSize":13,"color":"#3d3d3d","font":"Liberation Sans"},
    "encoding":{"text":{"field":"t","type":"nominal"}}}
  ]},
 {"width":175,"height":175,
  "encoding":{
   "x":{"field":"x","type":"quantitative","scale":{"domain":[0,1000],"nice":false,"zero":false},"axis":{"values":[52,86,120,154,188,222,256,290,324,358,392,427,462,498,533,568,603,638,674,709,744,805,840,866,885,901,915,926,937,946],"labelExpr":"datum.value == 52 ? '-10⁴' : datum.value == 392 ? '0' : datum.value == 744 ? '10⁴' : datum.value == 946 ? '10⁵' : ''","tickSize":{"condition":{"test":"indexof([52,392,744,946], datum.value) >= 0","value":4},"value":2},"title":"TIGIT-PE-CF594","titleX":79.5,"titleY":29}},
   "y":{"field":"y","type":"quantitative","scale":{"domain":[0,1000],"nice":false,"zero":false},"axis":{"values":[64,80,96,113,129,145,161,177,194,210,226,243,260,277,294,311,327,344,361,378,395,477,525,559,586,607,626,641,655,668,739,781,811,834,852,868,882,894,905,976],"labelExpr":"datum.value == 64 ? '-10³' : datum.value == 226 ? '0' : datum.value == 395 ? '10³' : datum.value == 668 ? '10⁴' : datum.value == 905 ? '10⁵' : ''","tickSize":{"condition":{"test":"indexof([64,226,395,668,905], datum.value) >= 0","value":4},"value":2},"title":"PD1-BUV737","titleX":-31,"titleY":80}}
  },
  "layer":[
   {"data":{"values":[{"x":463,"y":254,"ring":12},{"x":451,"y":254,"ring":11},{"x":440,"y":254,"ring":10},{"x":429,"y":254,"ring":9},{"x":417,"y":254,"ring":8},{"x":406,"y":254,"ring":7},{"x":394,"y":254,"ring":6}]},
    "mark":{"type":"point","shape":"M24,0C24,6.1 13.2,11 0,11C-13.2,11 -24,6.1 -24,0C-24,-6.1 -13.2,-11 0,-11C13.2,-11 24,-6.1 24,0Z","filled":false,"color":"black","opacity":1,"strokeWidth":1.1,"clip":true},
    "encoding":{"size":{"field":"ring","type":"quantitative","scale":{"type":"pow","exponent":2,"domain":[0,12],"range":[0,4]},"legend":null}}},
   {"data":{"values":[{"x":278,"y":269,"ring":9},{"x":278,"y":269,"ring":10},{"x":278,"y":269,"ring":11},{"x":278,"y":269,"ring":12}]},
    "mark":{"type":"point","shape":"M23.5,0C23.5,13 15.3,20 0,20C-15.3,20 -23.5,13 -23.5,0C-23.5,-13 -15.3,-20 0,-20C15.3,-20 23.5,-13 23.5,0Z","filled":false,"color":"black","opacity":1,"strokeWidth":1.4,"clip":true},
    "encoding":{"size":{"field":"ring","type":"quantitative","scale":{"type":"pow","exponent":2,"domain":[0,12],"range":[0,4]},"legend":null}}},
   {"data":{"values":[{"x":278,"y":269,"ring":10.5}]},
    "mark":{"type":"point","shape":"M23.5,0C23.5,13 15.3,20 0,20C-15.3,20 -23.5,13 -23.5,0C-23.5,-13 -15.3,-20 0,-20C15.3,-20 23.5,-13 23.5,0Z","filled":true,"color":"black","opacity":1,"clip":true},
    "encoding":{"size":{"field":"ring","type":"quantitative","scale":{"type":"pow","exponent":2,"domain":[0,12],"range":[0,4]},"legend":null}}},
   {"data":{"values":[{"x":160,"x2":415,"y":331,"y2":977},{"x":407,"x2":758,"y":116,"y2":497}]},
    "mark":{"type":"rect","fill":"white","fillOpacity":0,"stroke":"black","strokeWidth":1.3},
    "encoding":{"x2":{"field":"x2"},"y2":{"field":"y2"}}},
   {"data":{"values":[{"x":621,"y":926,"t":"PD1+CD8"},{"x":745,"y":541,"t":"TIGIT+CD8"}]},
    "mark":{"type":"text","fontSize":13,"color":"#3d3d3d","font":"Liberation Sans"},
    "encoding":{"text":{"field":"t","type":"nominal"}}}
  ]}
],"spacing":75,"bounds":"flush"}
]
}
